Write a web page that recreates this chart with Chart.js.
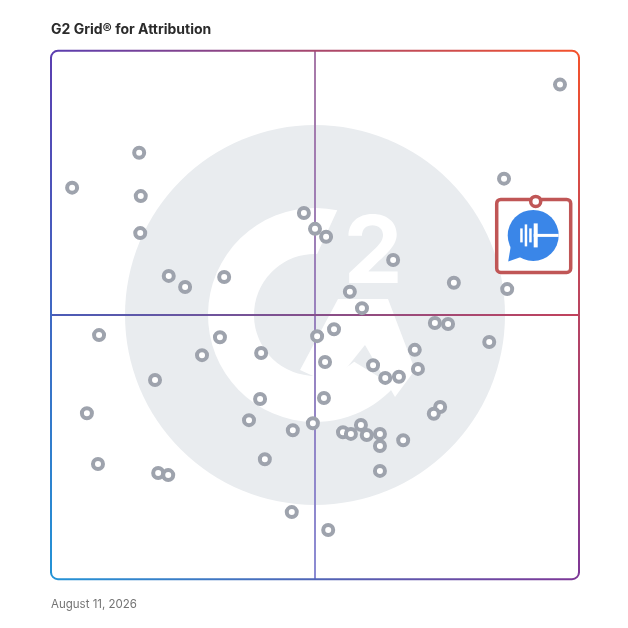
<!DOCTYPE html>
<html>
<head>
<meta charset="utf-8">
<script src="https://cdn.jsdelivr.net/npm/chart.js@4.4.1/dist/chart.umd.min.js"></script>
<style>
html, body { margin: 0; padding: 0; background: #fff; }
#wrap { width: 628px; height: 628px; position: relative; }
</style>
</head>
<body>
<div id="wrap"><canvas id="grid"></canvas></div>
<script>
// textes
var chartTitle = "G2 Grid® for Attribution";
var chartDate = "August 11, 2026";

// produits : x = satisfaction, y = market presence (0-100)
var productX = [16.7, 4.0, 17.0, 16.9, 22.3, 25.4, 32.8, 47.9, 50.0, 52.1,
                85.8, 96.4, 64.8, 76.3, 86.4, 56.6, 58.9, 72.7, 75.2, 53.6,
                50.4, 83.0, 68.9, 39.8, 51.9, 61.0, 69.5, 63.3, 65.9, 39.6,
                51.7, 73.7, 72.5, 37.5, 49.6, 45.8, 55.3, 56.8, 58.7, 59.8,
                62.3, 62.3, 66.7, 40.5, 62.3, 45.6, 52.5, 9.1, 32.0, 28.6,
                19.7, 6.8, 8.9, 20.3, 22.2];
var productY = [80.7, 74.1, 72.5, 65.5, 57.4, 55.3, 57.2, 69.3, 66.3, 64.8,
                75.8, 93.6, 60.4, 56.1, 54.9, 54.4, 51.3, 48.5, 48.3, 47.3,
                46.0, 44.9, 43.4, 42.8, 41.1, 40.5, 39.8, 38.1, 38.3, 34.1,
                34.3, 32.6, 31.3, 30.1, 29.5, 28.2, 27.8, 27.5, 29.2, 27.3,
                27.5, 25.2, 26.3, 22.7, 20.5, 12.7, 9.3, 46.2, 45.8, 42.4,
                37.7, 31.4, 21.8, 20.1, 19.7];

// produit mis en avant (avec son logo)
var featuredX = [91.8];
var featuredY = [71.5];

// couleurs du cadre (coins)
var cornerTL = "#5b3eb0";
var cornerTR = "#f4522c";
var cornerBR = "#7d3797";
var cornerBL = "#2393d6";

function toPts(xs, ys) {
    var out = [];
    for (let i = 0; i < xs.length; i++) out.push({ x: xs[i], y: ys[i] });
    return out;
}

function deg(d) { return d * Math.PI / 180; }

// fond : logo G2 en filigrane + lignes des quadrants + cadre
var gridBackground = {
    id: "gridBackground",
    beforeDatasetsDraw(chart) {
        const ctx = chart.ctx;
        const a = chart.chartArea;
        const s = (a.right - a.left) / 528;
        const cx = chart.scales.x.getPixelForValue(50);
        const cy = chart.scales.y.getPixelForValue(50);

        ctx.save();
        // disque gris
        ctx.fillStyle = "#e9ecef";
        ctx.beginPath();
        ctx.arc(cx, cy, 190 * s, 0, Math.PI * 2);
        ctx.fill();

        // arc du G
        ctx.fillStyle = "#ffffff";
        ctx.beginPath();
        ctx.arc(cx, cy, 107 * s, deg(-78), deg(42), true);
        ctx.arc(cx, cy, 61 * s, deg(50), deg(-88), false);
        ctx.closePath();
        ctx.fill();

        // chevron du G
        ctx.beginPath();
        ctx.moveTo(cx + 23 * s, cy - 16 * s);
        ctx.lineTo(cx + 73 * s, cy - 16 * s);
        ctx.lineTo(cx + 100 * s, cy + 55 * s);
        ctx.lineTo(cx + 80 * s, cy + 82 * s);
        ctx.lineTo(cx + 50 * s, cy + 30 * s);
        ctx.lineTo(cx + 18 * s, cy + 70 * s);
        ctx.lineTo(cx - 15 * s, cy + 55 * s);
        ctx.closePath();
        ctx.fill();

        // le 2
        ctx.font = "bold " + Math.round(94 * s) + "px Inter, sans-serif";
        ctx.textAlign = "center";
        ctx.textBaseline = "alphabetic";
        ctx.fillText("2", cx + 58 * s, cy - 32 * s);
        ctx.restore();

        // lignes des quadrants
        ctx.save();
        ctx.lineWidth = 2;
        let gv = ctx.createLinearGradient(cx, a.top, cx, a.bottom);
        gv.addColorStop(0, "#a879a8");
        gv.addColorStop(1, "#8b8bd3");
        ctx.strokeStyle = gv;
        ctx.beginPath();
        ctx.moveTo(cx, a.top);
        ctx.lineTo(cx, a.bottom);
        ctx.stroke();

        let gh = ctx.createLinearGradient(a.left, cy, a.right, cy);
        gh.addColorStop(0, "#4a5cb8");
        gh.addColorStop(1, "#c2425c");
        ctx.strokeStyle = gh;
        ctx.beginPath();
        ctx.moveTo(a.left, cy);
        ctx.lineTo(a.right, cy);
        ctx.stroke();

        // cadre arrondi, un dégradé par côté
        const l = a.left, t = a.top, r = a.right, b = a.bottom, rad = 7;
        ctx.lineWidth = 2;
        ctx.lineCap = "round";

        let g = ctx.createLinearGradient(l, t, r, t);
        g.addColorStop(0, cornerTL); g.addColorStop(1, cornerTR);
        ctx.strokeStyle = g;
        ctx.beginPath();
        ctx.moveTo(l, t + rad);
        ctx.arcTo(l, t, l + rad, t, rad);
        ctx.lineTo(r - rad, t);
        ctx.arcTo(r, t, r, t + rad, rad);
        ctx.stroke();

        g = ctx.createLinearGradient(r, t, r, b);
        g.addColorStop(0, cornerTR); g.addColorStop(1, cornerBR);
        ctx.strokeStyle = g;
        ctx.beginPath();
        ctx.moveTo(r, t + rad);
        ctx.lineTo(r, b - rad);
        ctx.stroke();

        g = ctx.createLinearGradient(l, b, r, b);
        g.addColorStop(0, cornerBL); g.addColorStop(1, cornerBR);
        ctx.strokeStyle = g;
        ctx.beginPath();
        ctx.moveTo(l, b - rad);
        ctx.arcTo(l, b, l + rad, b, rad);
        ctx.lineTo(r - rad, b);
        ctx.arcTo(r, b, r, b - rad, rad);
        ctx.stroke();

        g = ctx.createLinearGradient(l, t, l, b);
        g.addColorStop(0, cornerTL); g.addColorStop(1, cornerBL);
        ctx.strokeStyle = g;
        ctx.beginPath();
        ctx.moveTo(l, t + rad);
        ctx.lineTo(l, b - rad);
        ctx.stroke();

        // encadré du produit mis en avant
        const meta = chart.getDatasetMeta(1);
        if (meta && meta.data[0]) {
            const p = meta.data[0];
            const bx = p.x - 39, by = p.y - 2, bw = 74, bh = 73;
            ctx.fillStyle = "#ffffff";
            ctx.strokeStyle = "#c05656";
            ctx.lineWidth = 3.5;
            ctx.beginPath();
            ctx.roundRect(bx, by, bw, bh, 4);
            ctx.fill();
            ctx.stroke();

            // logo : bulle bleue
            const ix = p.x - 2.5, iy = p.y + 34;
            ctx.fillStyle = "#3a86e8";
            ctx.beginPath();
            ctx.arc(ix, iy, 25.5, 0, Math.PI * 2);
            ctx.fill();
            ctx.beginPath();
            ctx.moveTo(ix - 22, iy + 8);
            ctx.lineTo(ix - 25, iy + 26);
            ctx.lineTo(ix - 8, iy + 20);
            ctx.closePath();
            ctx.fill();

            ctx.fillStyle = "#ffffff";
            ctx.fillRect(ix - 13, iy - 7, 2.5, 14);
            ctx.fillRect(ix - 8.5, iy - 11, 2.5, 22);
            ctx.fillRect(ix - 4, iy - 7, 2.5, 14);
            ctx.fillRect(ix + 0.5, iy - 12, 4, 24);
            ctx.fillRect(ix + 0.5, iy - 1.5, 25, 3);
        }
        ctx.restore();
    }
};

var ctx = document.getElementById("grid").getContext("2d");
const myChart = new Chart(ctx, {
    type: "scatter",
    data: {
        datasets: [
            {
                label: "Products",
                data: toPts(productX, productY),
                pointRadius: 5,
                borderWidth: 4,
                borderColor: "#9ea3ad",
                backgroundColor: "#ffffff"
            },
            {
                label: "Featured",
                data: toPts(featuredX, featuredY),
                pointRadius: 5,
                borderWidth: 3.5,
                borderColor: "#c05656",
                backgroundColor: "#ffffff"
            }
        ]
    },
    options: {
        responsive: true,
        maintainAspectRatio: false,
        animation: false,
        events: [],
        layout: {
            padding: { left: 51, right: 49, top: 21, bottom: 17 }
        },
        scales: {
            x: { min: 0, max: 100, display: false },
            y: { min: 0, max: 100, display: false }
        },
        plugins: {
            legend: { display: false },
            tooltip: { enabled: false },
            title: {
                display: true,
                text: chartTitle,
                align: "start",
                color: "#2b2b2b",
                font: { family: "Inter, sans-serif", size: 14, weight: "700", lineHeight: 1.2 },
                padding: { top: 0, bottom: 13 }
            },
            subtitle: {
                display: true,
                text: chartDate,
                position: "bottom",
                align: "start",
                color: "#747474",
                font: { family: "Inter, sans-serif", size: 11.5, weight: "400", lineHeight: 1.2 },
                padding: { top: 18, bottom: 0 }
            }
        }
    },
    plugins: [gridBackground]
});
</script>
</body>
</html>
